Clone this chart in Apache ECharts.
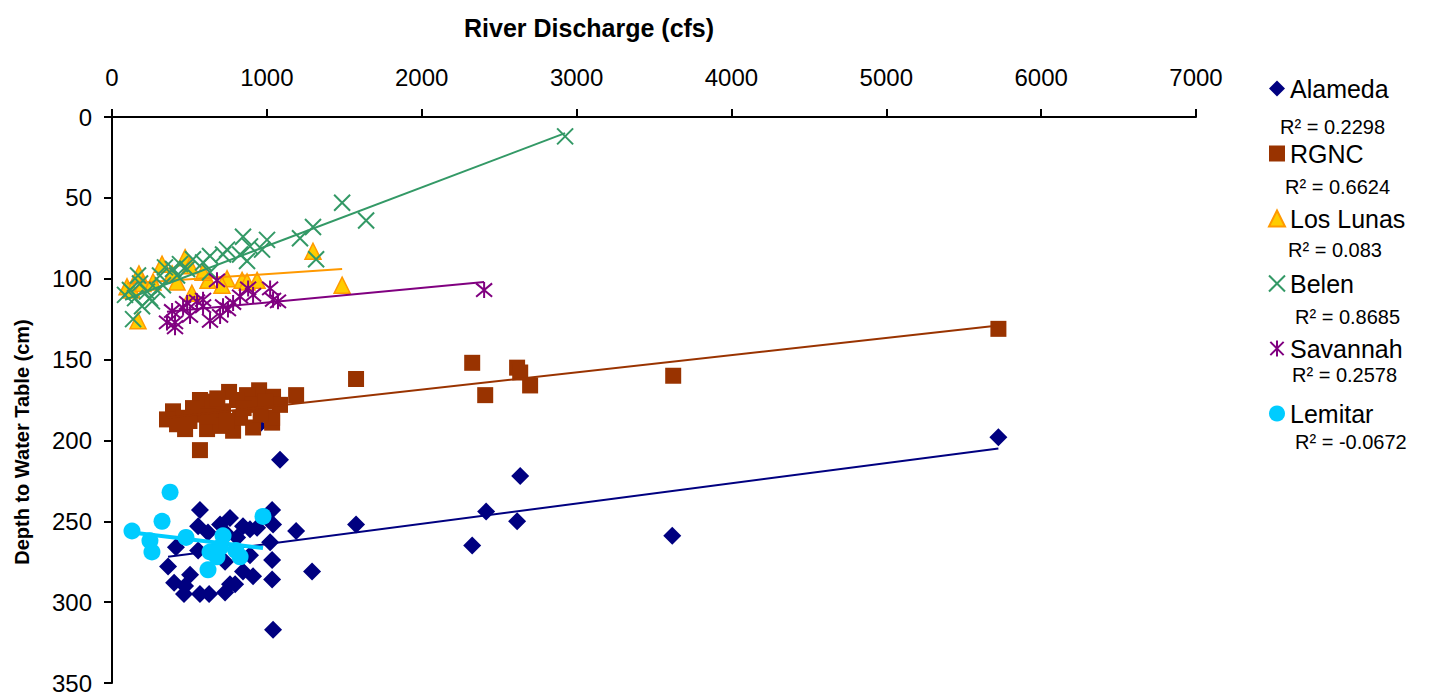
<!DOCTYPE html>
<html>
<head>
<meta charset="utf-8">
<script src="https://cdn.jsdelivr.net/npm/echarts@6/dist/echarts.min.js"></script>
<style>html,body{margin:0;padding:0;background:#fff}#c{width:1430px;height:695px}</style>
</head>
<body>
<div id="c"></div>
<script>
// River discharge (cfs) vs depth to water table (cm)
const seriesNames = ['Alameda', 'RGNC', 'Los Lunas', 'Belen', 'Savannah', 'Lemitar'];
const r2Labels = ['R² = 0.2298', 'R² = 0.6624', 'R² = 0.083', 'R² = 0.8685', 'R² = 0.2578', 'R² = -0.0672'];
const xTicks = [0, 1000, 2000, 3000, 4000, 5000, 6000, 7000];
const yTicks = [0, 50, 100, 150, 200, 250, 300, 350];

const alameda = [[5724,198],[3618,259],[2636,222],[2416,244],[2616,250],[2326,265],[1576,252],[1189,256],[1292,281],[1085,212],[1040,317],[943,191],
[568,243],[1034,243],[762,248],[556,253],[698,252],[846,253],[891,255],[1040,252],[620,257],[743,258],[808,260],[937,254],[1021,263],[413,266],[556,268],[698,265],[891,271],[1034,274],[362,278],[730,275],[504,283],[846,281],[911,284],[401,288],[1034,286],[762,289],[465,295],[568,295],[627,295],[730,294],[795,289],[472,290]];
const rgnc = [[5724,131],[3624,160],[2326,152],[1576,162],[2410,172],[2616,155],[2636,158],[2700,166],
[568,175],[756,170],[950,169],[1189,172],[872,172],[1040,173],[394,182],[355,187],[472,193],[614,193],[782,194],[1034,189],[1034,186],[568,206],[568,184],[717,182],[827,186],[891,178],[1085,178],[652,176],[523,180],[698,191],[911,192],[807,175],[459,186],
[620,185],[740,188],[850,180],[960,184],[500,188],[680,174],[990,176],[420,190]];
const losLunas = [[174,97],[323,91],[472,87],[97,105],[129,107],[168,126],[388,97],[420,102],[516,109],[620,101],[743,100],[840,101],[937,101],[200,103],[265,102],[588,96],[872,102],[710,104],[504,92],[1298,83],[1486,104]];
const belen = [[2926,12],[1486,53],[1641,64],[1298,68],[1214,75],[1318,88],[846,74],[1001,76],[743,82],[891,80],[969,82],[633,86],[717,85],[827,85],[872,89],[523,88],[588,90],[439,91],[342,93],[394,94],[485,94],[633,96],[168,98],[310,98],[181,103],[420,98],[116,107],[226,108],[291,107],[149,112],[245,112],[136,125],[329,104],[84,110],[194,117],[258,114]];
const savannah = [[2403,107],[678,101],[879,106],[1021,106],[1072,114],[1040,113],[388,120],[355,127],[407,127],[459,118],[504,123],[549,114],[588,113],[633,126],[698,123],[749,119],[782,115],[827,111],[911,110],[717,117],[588,117],[485,115],[407,130]];
const lemitar = [[375,232],[129,256],[323,250],[245,262],[258,269],[478,260],[717,259],[975,247],[633,269],[827,272],[620,280],[678,272],[700,266],[800,268]];

// trendline end points
const trendAlameda = [[362,272],[5724,205]];
const trendRgnc = [[355,186],[5724,129]];
const trendLosLunas = [[97,103],[1486,94]];
const trendBelen = [[84,113],[2926,10]];
const trendSavannah = [[355,120.5],[2403,102]];
const trendLemitar = [[129,257],[975,266.5]];

const FONT = 'Liberation Sans, Arial, sans-serif';
const chart = echarts.init(document.getElementById('c'), null, {renderer: 'svg'});

const xPath = 'path://M0,0L10,10M10,0L0,10';
const starPath = 'path://M0,0L10,10M10,0L0,10M5,-1L5,11';

function trend(name, data, color, width, z) {
  return {type: 'line', name: name + ' trend', data: data, showSymbol: false, symbol: 'none',
    lineStyle: {color: color, width: width}, silent: true, z: z, animation: false};
}

const r2Pos = [[1280,127],[1285,187],[1288,250],[1295,317],[1292,375],[1295,442]];

chart.setOption({
  animation: false,
  backgroundColor: '#fff',
  title: {text: 'River Discharge (cfs)', left: 459, top: 10,
    textStyle: {fontFamily: FONT, fontSize: 25, fontWeight: 'bold', color: '#000'}},
  grid: {left: 112, top: 117, right: 234, bottom: 8, containLabel: false},
  xAxis: {type: 'value', position: 'top', min: xTicks[0], max: xTicks[xTicks.length-1], interval: 1000,
    axisLine: {show: true, onZero: false, lineStyle: {color: '#000', width: 2}},
    axisTick: {show: true, inside: false, length: 8, lineStyle: {color: '#000', width: 2}},
    splitLine: {show: false},
    axisLabel: {fontFamily: FONT, fontSize: 24, color: '#000', margin: 28, formatter: v => String(v)}},
  yAxis: {type: 'value', inverse: true, min: yTicks[0], max: yTicks[yTicks.length-1], interval: 50,
    axisLine: {show: true, onZero: false, lineStyle: {color: '#000', width: 2}},
    axisTick: {show: true, inside: false, length: 8, lineStyle: {color: '#000', width: 2}},
    splitLine: {show: false},
    axisLabel: {fontFamily: FONT, fontSize: 24, color: '#000', margin: 20, formatter: v => String(v)}},
  legend: {orient: 'vertical', left: 1263, top: 71, itemWidth: 16, itemHeight: 16, itemGap: 40,
    data: seriesNames,
    textStyle: {fontFamily: FONT, fontSize: 25, color: '#000'}},
  graphic: r2Labels.map((t, i) => ({type: 'text', x: r2Pos[i][0], y: r2Pos[i][1],
    style: {text: t, fontFamily: FONT, fontSize: 20, fill: '#000', textVerticalAlign: 'middle', verticalAlign: 'middle'}}))
    .concat([{type: 'text', x: 22, y: 442, rotation: Math.PI / 2,
      style: {text: 'Depth to Water Table (cm)', fontFamily: FONT, fontSize: 20, fontWeight: 'bold', fill: '#000',
        textAlign: 'center', align: 'center', textVerticalAlign: 'middle', verticalAlign: 'middle'}}]),
  series: [
    {type: 'scatter', name: 'Alameda', data: alameda, symbol: 'diamond', symbolSize: 18,
      itemStyle: {color: '#000080', opacity: 1}, z: 2},
    trend('Alameda', trendAlameda, '#000080', 2, 3),
    {type: 'scatter', name: 'RGNC', data: rgnc, symbol: 'rect', symbolSize: 16,
      itemStyle: {color: '#993300', opacity: 1}, z: 4},
    trend('RGNC', trendRgnc, '#993300', 2, 5),
    {type: 'scatter', name: 'Los Lunas', data: losLunas, symbol: 'triangle', symbolSize: 16,
      itemStyle: {color: '#FFCC00', borderColor: '#FF9900', borderWidth: 1.5, opacity: 1}, z: 4},
    trend('Los Lunas', trendLosLunas, '#FF9900', 2, 5),
    {type: 'scatter', name: 'Belen', data: belen, symbol: xPath, symbolSize: 16,
      itemStyle: {color: 'rgba(0,0,0,0)', borderColor: '#339966', borderWidth: 2, opacity: 1}, z: 6},
    trend('Belen', trendBelen, '#339966', 2, 6),
    {type: 'scatter', name: 'Savannah', data: savannah, symbol: starPath, symbolSize: 16,
      itemStyle: {color: 'rgba(0,0,0,0)', borderColor: '#800080', borderWidth: 2, opacity: 1}, z: 6},
    trend('Savannah', trendSavannah, '#800080', 2, 6),
    {type: 'scatter', name: 'Lemitar', data: lemitar, symbol: 'circle', symbolSize: 17,
      itemStyle: {color: '#00CCFF', opacity: 1}, z: 7},
    trend('Lemitar', trendLemitar, '#00CCFF', 4, 8)
  ]
});
</script>
</body>
</html>
